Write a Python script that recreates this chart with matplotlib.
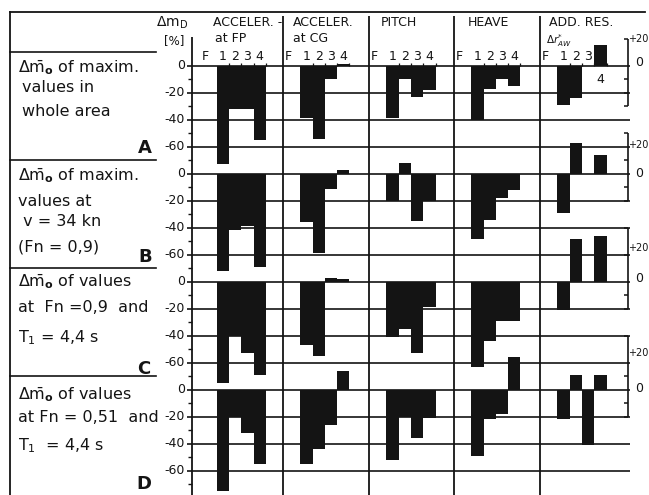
"""Recreation of a scanned comparison table: change of maximum values (Δm) per
ship variant F,1,2,3,4 for accelerations, pitch, heave and added resistance."""

import matplotlib
matplotlib.use("Agg")
import matplotlib.pyplot as plt
import numpy as np

# ---------------------------------------------------------------------------
# Data  (Δm in %, one list per row A..D, slots F,1,2,3,4)
# ---------------------------------------------------------------------------

SLOTS = ["F", "1", "2", "3", "4"]
ROW_LETTERS = ["A", "B", "C", "D"]

accel_fp = [
    [0, -73, -32, -32, -55],
    [0, -72, -42, -39, -69],
    [0, -75, -40, -53, -69],
    [0, -75, -20, -32, -55],
]
accel_cg = [
    [0, -39, -54, -10, 1.5],
    [0, -36, -59, -11, 2.5],
    [0, -47, -55, 2.5, 2],
    [0, -55, -44, -26, 14],
]
pitch = [
    [0, -39, -10, -23, -18],
    [0, -20, 8, -35, -20],
    [0, -41, -35, -53, -19],
    [0, -52, -20, -36, -21],
]
heave = [
    [0, -40, -17, -10, -15],
    [0, -48, -34, -18, -12],
    [0, -63, -44, -29, -29],
    [0, -49, -22, -18, 24],
]
add_res = [
    [0, -29, -24, 0, 15],
    [0, -29, 23, 0, 14],
    [0, -21, 32, 0, 34],
    [0, -22, 11, -41, 11],
]
COLUMNS = [accel_fp, accel_cg, pitch, heave, add_res]

LEFT_TICKS = [0, -20, -40, -60]
LEFT_TICK_LABELS = ["0", "-20", "-40", "-60"]

ROW_TEXT = [
    [r"$\Delta\bar{\mathrm{m}}_\mathbf{o}$ of maxim.", "values in", "whole area"],
    [r"$\Delta\bar{\mathrm{m}}_\mathbf{o}$ of maxim.", "values at", " v = 34 kn", "(Fn = 0,9)"],
    [r"$\Delta\bar{\mathrm{m}}_\mathbf{o}$ of values", "at  Fn =0,9  and", r"$\mathrm{T}_1$ = 4,4 s"],
    [r"$\Delta\bar{\mathrm{m}}_\mathbf{o}$ of values", "at Fn = 0,51  and", r"$\mathrm{T}_1$  = 4,4 s"],
]

# ---------------------------------------------------------------------------
# Layout (pixels of a 649 x 495 image)
# ---------------------------------------------------------------------------

W, H = 649, 495
TOP_PX = 12.0
ZERO_A_PX = 65.7
PX_PER_UNIT = 1.35
SLOT_PX = 12.3
X0_PX, X1_PX = 192.0, 630.0
ROW_OFF = [0, -80, -160, -240]
COL_START = [1.0, 7.8, 14.8, 21.7, 28.7]
DIVIDERS = [7.4, 14.35, 21.3, 28.3]
XR = (X1_PX - X0_PX) / SLOT_PX
BRACKET_X = XR - 0.15

# right-hand scale of ADD. RES. per row: (top, bottom, inner ticks, +20 pos, 0 pos)
BRACKETS = [
    (20, -30, [-10, -20], 20, 2),
    (30, -20, [10, -10], 21, 0),
    (40, -20, [20, -10], 25, 2),
    (40, -20, [10, -10], 27, 1),
]

INK = "#141414"
FONT = ["DejaVu Sans"]
plt.rcParams["font.family"] = FONT
plt.rcParams["mathtext.fontset"] = "dejavusans"

fig = plt.figure(figsize=(W / 100, H / 100), dpi=100)
fig.patch.set_facecolor("white")

# background axes in pixel coordinates for the frame and the text column
ax0 = fig.add_axes([0, 0, 1, 1])
ax0.set_xlim(0, W)
ax0.set_ylim(H, 0)
ax0.axis("off")

ax0.plot([10, 645], [TOP_PX, TOP_PX], color=INK, lw=1.3)
ax0.plot([10, 10], [TOP_PX, H], color=INK, lw=1.3)
for r in range(4):
    y_sep = ZERO_A_PX + (10 - 80 * r) * -PX_PER_UNIT
    ax0.plot([10, 156], [y_sep, y_sep], color=INK, lw=1.2)

row_text_pos = [
    [(18, 68), (22, 88), (22, 111)],
    [(18, 176), (18, 202), (18, 222), (18, 247)],
    [(18, 282), (18, 308), (18, 338)],
    [(18, 395), (18, 418), (18, 446)],
]
letter_pos = [(145, 148), (145, 257), (144, 369), (144, 484)]
for r in range(4):
    for txt, (x, y) in zip(ROW_TEXT[r], row_text_pos[r]):
        ax0.text(x, y, txt, ha="left", va="center", fontsize=11.5, color=INK)
    lx, ly = letter_pos[r]
    ax0.text(lx, ly, ROW_LETTERS[r], ha="center", va="center",
             fontsize=13, color=INK, fontweight="bold")

# column headers
ax0.text(172, 23, r"$\Delta\mathrm{m}_\mathrm{D}$", ha="center", va="center", fontsize=10, color=INK)
ax0.text(174, 41, "[%]", ha="center", va="center", fontsize=8.5, color=INK)
hdr = [("ACCELER. -", 213, 23), ("at FP", 215, 38), ("ACCELER.", 293, 23),
       ("at CG", 293, 38), ("PITCH", 381, 23), ("HEAVE", 468, 23),
       ("ADD. RES.", 549, 22)]
for txt, x, y in hdr:
    ax0.text(x, y, txt, ha="left", va="center", fontsize=9, color=INK)
ax0.text(546, 41, r"$\Delta r^{*}_{AW}$", ha="left", va="center", fontsize=7.5, color=INK)

# ---------------------------------------------------------------------------
# Main axes: x in slot units, y in Δm units (rows stacked 80 units apart)
# ---------------------------------------------------------------------------

y_top = (ZERO_A_PX - TOP_PX) / PX_PER_UNIT
y_bot = -(H - ZERO_A_PX) / PX_PER_UNIT
ax = fig.add_axes([X0_PX / W, 0, (X1_PX - X0_PX) / W, (H - TOP_PX) / H])
ax.set_xlim(0, XR)
ax.set_ylim(y_bot, y_top)
ax.axis("off")
ax.patch.set_alpha(0)

# left axis with minor ticks
ax.vlines(0, y_bot, 21.5, color=INK, lw=1.3, clip_on=False)
for r, off in enumerate(ROW_OFF):
    ax.hlines([off + v for v in LEFT_TICKS], -0.4, XR, color=INK, lw=1.2, clip_on=False)
    ax.hlines([off + v for v in (-10, -30, -50, -70)], -0.35, 0, color=INK, lw=1.0, clip_on=False)
    for v, lab in zip(LEFT_TICKS, LEFT_TICK_LABELS):
        ax.text(-0.55, off + v, lab, ha="right", va="center", fontsize=9, color=INK, clip_on=False)

# column dividers
ax.vlines(DIVIDERS, y_bot, 36.5, color=INK, lw=1.3, clip_on=False)

# slot labels (ADD. RES. shows F 1 2 3 only; its bar 4 is labelled underneath)
for c, start in enumerate(COL_START):
    n_lab = 4 if c == 4 else 5
    for i in range(n_lab):
        dx = -0.45 if i == 0 else 0.0
        ax.text(start + i + 0.5 + dx, 7, SLOTS[i], ha="center", va="center",
                fontsize=9, color=INK)
    ax.vlines(start + np.arange(2, 6), 0, 2.2, color=INK, lw=0.9)
ax.text(COL_START[4] + 4.5, -10.5, SLOTS[4], ha="center", va="center", fontsize=9, color=INK)

# bars
for c, col in enumerate(COLUMNS):
    x = COL_START[c] + np.arange(len(SLOTS))
    for r, vals in enumerate(col):
        ax.bar(x, vals, width=1.0, bottom=ROW_OFF[r], align="edge",
               color=INK, linewidth=0, clip_on=False, zorder=3)

# right-hand scale brackets of ADD. RES.
for r, (top, bot, ticks, lab20, lab0) in enumerate(BRACKETS):
    off = ROW_OFF[r]
    ax.vlines(BRACKET_X, off + bot, off + top, color=INK, lw=1.2, clip_on=False)
    ax.hlines([off + top, off + bot] + [off + t for t in ticks],
              BRACKET_X - 0.35, BRACKET_X, color=INK, lw=1.1, clip_on=False)
    ax.text(BRACKET_X + 0.02, off + lab20, "+20", ha="left", va="center",
            fontsize=7, color=INK, clip_on=False)
    ax.text(BRACKET_X + 0.9, off + lab0, "0", ha="center", va="center",
            fontsize=9, color=INK, clip_on=False)

fig.savefig("out.png", dpi=100, facecolor="white")
